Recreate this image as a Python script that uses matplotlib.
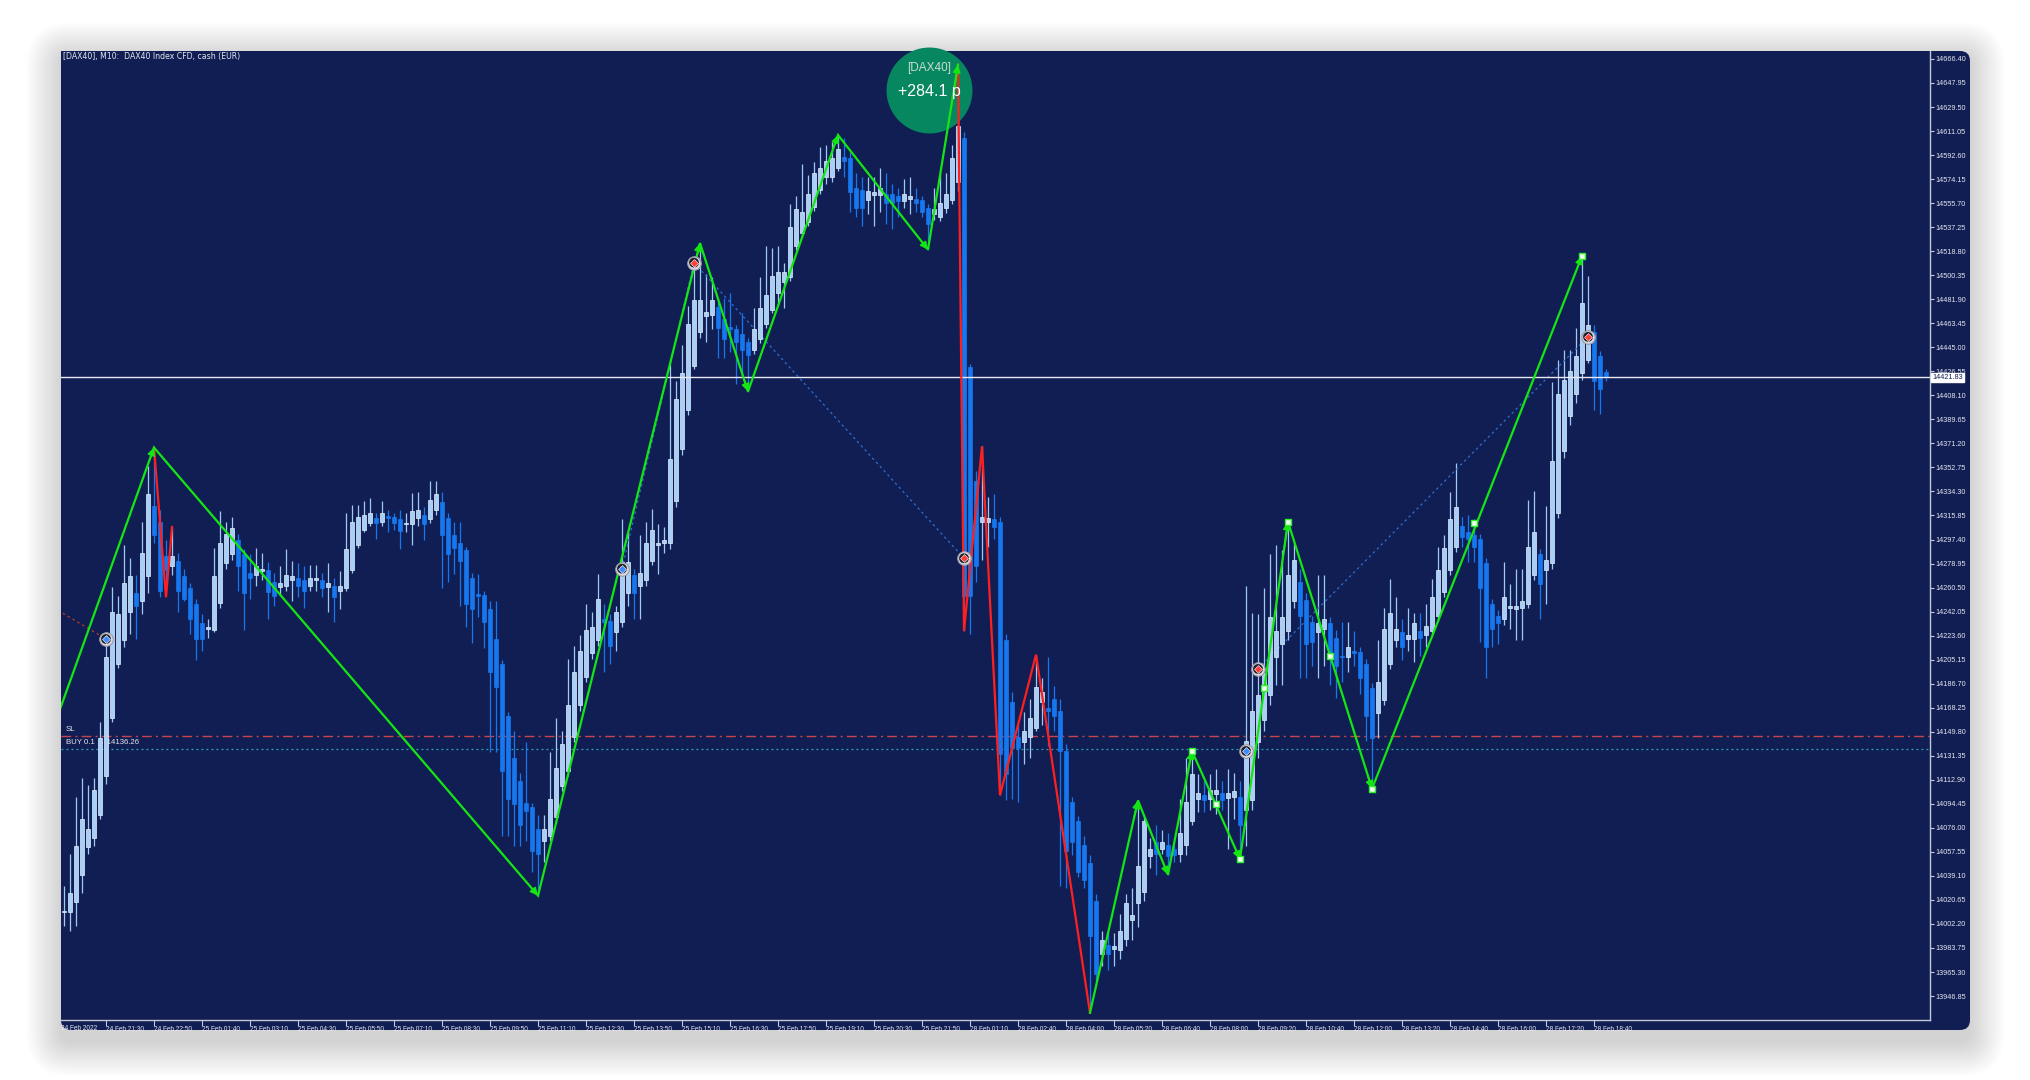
import matplotlib
matplotlib.use("Agg")
import matplotlib.pyplot as plt
from matplotlib.patches import FancyBboxPatch
from matplotlib.transforms import IdentityTransform, blended_transform_factory
import numpy as np

# ---- candle data (DAX40, M10) ----
opens = [14011, 14011, 14019, 14040, 14061, 14068, 14086, 14116, 14160, 14202, 14220, 14242, 14256, 14250, 14269, 14323,
         14311, 14285, 14277, 14281, 14269, 14260, 14248, 14233, 14229, 14228, 14249, 14279, 14286, 14297, 14286, 14272,
         14270, 14273, 14274, 14265, 14261, 14262, 14266, 14268, 14266, 14262, 14266, 14266, 14261, 14262, 14258, 14260,
         14274, 14293, 14305, 14310, 14314, 14311, 14315, 14315, 14313, 14309, 14309, 14314, 14316, 14313, 14320, 14326,
         14314, 14301, 14295, 14289, 14268, 14255, 14255, 14244, 14221, 14202, 14162, 14130, 14112, 14095, 14092, 14075,
         14066, 14070, 14084, 14108, 14120, 14146, 14170, 14192, 14210, 14220, 14236, 14235, 14226, 14234, 14256, 14270,
         14262, 14266, 14281, 14293, 14295, 14295, 14327, 14367, 14397, 14431, 14457, 14469, 14470, 14476, 14467, 14460,
         14459, 14455, 14449, 14443, 14451, 14463, 14474, 14487, 14495, 14499, 14523, 14533, 14541, 14553, 14566, 14576,
         14576, 14583, 14591, 14590, 14567, 14566, 14558, 14562, 14562, 14563, 14563, 14561, 14557, 14559, 14559, 14558,
         14552, 14547, 14545, 14552, 14558, 14572, 14606, 14430, 14342, 14311, 14311, 14313, 14311, 14220, 14173, 14146,
         14142, 14146, 14153, 14173, 14168, 14175, 14166, 14135, 14096, 14081, 14063, 14049, 14020, 13979, 13986, 13983,
         13982, 13991, 14005, 14018, 14027, 14054, 14065, 14060, 14063, 14060, 14056, 14063, 14081, 14098, 14101, 14098,
         14102, 14103, 14099, 14100, 14100, 14090, 14097, 14142, 14159, 14178, 14207, 14217, 14227, 14250, 14265, 14251,
         14234, 14226, 14229, 14233, 14222, 14208, 14207, 14212, 14211, 14202, 14183, 14164, 14174, 14202, 14220, 14226,
         14221, 14221, 14227, 14224, 14227, 14239, 14257, 14274, 14292, 14308, 14303, 14301, 14298, 14279, 14248, 14239,
         14236, 14245, 14244, 14245, 14248, 14270, 14286, 14274, 14279, 14318, 14365, 14392, 14409, 14425, 14435, 14457,
         14438, 14426]
highs = [14031, 14056, 14100, 14114, 14109, 14114, 14157, 14221, 14261, 14254, 14293, 14283, 14270, 14311, 14354, 14368,
         14320, 14297, 14307, 14287, 14275, 14264, 14252, 14240, 14236, 14291, 14319, 14311, 14315, 14302, 14290, 14286,
         14291, 14287, 14280, 14272, 14277, 14290, 14281, 14279, 14277, 14278, 14278, 14272, 14279, 14268, 14273, 14318,
         14324, 14324, 14327, 14329, 14318, 14327, 14320, 14318, 14320, 14318, 14333, 14334, 14322, 14342, 14342, 14334,
         14318, 14311, 14311, 14292, 14272, 14271, 14258, 14250, 14250, 14205, 14165, 14150, 14118, 14142, 14095, 14086,
         14086, 14134, 14160, 14150, 14206, 14216, 14224, 14248, 14242, 14271, 14248, 14240, 14246, 14313, 14303, 14275,
         14301, 14311, 14321, 14309, 14307, 14435, 14419, 14447, 14477, 14505, 14525, 14501, 14499, 14480, 14483, 14487,
         14462, 14471, 14452, 14475, 14499, 14523, 14521, 14523, 14510, 14555, 14561, 14586, 14577, 14587, 14599, 14600,
         14603, 14608, 14606, 14595, 14579, 14576, 14576, 14576, 14583, 14579, 14570, 14567, 14574, 14576, 14567, 14561,
         14555, 14567, 14579, 14579, 14600, 14662, 14610, 14432, 14350, 14369, 14330, 14332, 14315, 14225, 14180, 14157,
         14165, 14175, 14209, 14191, 14207, 14185, 14175, 14140, 14100, 14085, 14070, 14055, 14025, 13997, 13995, 13995,
         14010, 14025, 14030, 14097, 14085, 14068, 14078, 14074, 14072, 14068, 14098, 14130, 14135, 14117, 14112, 14117,
         14121, 14112, 14121, 14118, 14112, 14262, 14241, 14240, 14260, 14286, 14293, 14289, 14311, 14296, 14275, 14256,
         14239, 14270, 14270, 14238, 14228, 14234, 14234, 14227, 14215, 14206, 14187, 14220, 14245, 14267, 14253, 14236,
         14245, 14241, 14241, 14248, 14267, 14292, 14301, 14334, 14356, 14315, 14316, 14313, 14302, 14283, 14252, 14243,
         14280, 14263, 14275, 14275, 14328, 14335, 14290, 14323, 14418, 14435, 14443, 14443, 14460, 14515, 14500, 14462,
         14442, 14428]
lows = [14001, 13997, 14001, 14026, 14056, 14062, 14083, 14110, 14157, 14199, 14215, 14225, 14221, 14240, 14256, 14295,
        14253, 14258, 14270, 14242, 14250, 14225, 14205, 14212, 14222, 14226, 14245, 14275, 14282, 14258, 14228, 14252,
        14262, 14266, 14236, 14246, 14255, 14258, 14250, 14253, 14245, 14258, 14258, 14253, 14242, 14234, 14244, 14258,
        14272, 14291, 14303, 14308, 14298, 14308, 14303, 14305, 14290, 14303, 14293, 14308, 14297, 14310, 14316, 14260,
        14265, 14271, 14246, 14230, 14218, 14238, 14214, 14134, 14134, 14070, 14070, 14062, 14062, 14066, 14042, 14024,
        14050, 14066, 14080, 14104, 14116, 14142, 14166, 14188, 14206, 14216, 14196, 14202, 14212, 14230, 14246, 14236,
        14236, 14262, 14278, 14271, 14287, 14290, 14322, 14362, 14393, 14428, 14452, 14449, 14459, 14437, 14437, 14441,
        14417, 14423, 14411, 14440, 14448, 14460, 14471, 14477, 14475, 14496, 14520, 14530, 14538, 14550, 14563, 14570,
        14572, 14580, 14576, 14549, 14545, 14538, 14547, 14538, 14549, 14540, 14536, 14545, 14552, 14547, 14549, 14545,
        14520, 14543, 14542, 14548, 14555, 14565, 14227, 14225, 14265, 14282, 14292, 14298, 14101, 14097, 14098, 14096,
        14125, 14130, 14150, 14155, 14139, 14150, 14031, 14030, 14055, 14038, 14030, 13934, 13955, 13970, 13967, 13970,
        13975, 13985, 13990, 14000, 14020, 14045, 14040, 14056, 14040, 14050, 14050, 14055, 14078, 14088, 14088, 14090,
        14087, 14090, 14060, 14083, 14052, 14062, 14090, 14130, 14150, 14170, 14186, 14186, 14220, 14245, 14191, 14191,
        14200, 14191, 14200, 14186, 14176, 14188, 14196, 14200, 14179, 14143, 14106, 14145, 14170, 14198, 14215, 14205,
        14212, 14203, 14208, 14215, 14223, 14235, 14253, 14270, 14288, 14292, 14280, 14280, 14219, 14191, 14215, 14217,
        14232, 14229, 14220, 14220, 14245, 14266, 14236, 14248, 14275, 14314, 14360, 14385, 14402, 14420, 14433, 14397,
        14394, 14419]
closes = [14012, 14026, 14062, 14083, 14075, 14105, 14145, 14207, 14242, 14240, 14264, 14269, 14246, 14287, 14332, 14301,
          14258, 14274, 14285, 14258, 14252, 14236, 14221, 14221, 14230, 14269, 14295, 14302, 14306, 14277, 14256, 14268,
          14277, 14275, 14257, 14254, 14264, 14270, 14269, 14262, 14258, 14268, 14268, 14260, 14264, 14253, 14262, 14290,
          14311, 14315, 14316, 14318, 14310, 14318, 14314, 14310, 14304, 14310, 14319, 14320, 14309, 14328, 14332, 14301,
          14286, 14291, 14281, 14248, 14244, 14254, 14234, 14196, 14184, 14120, 14098, 14094, 14078, 14089, 14058, 14056,
          14075, 14098, 14122, 14140, 14170, 14196, 14212, 14228, 14230, 14252, 14234, 14216, 14242, 14280, 14280, 14256,
          14272, 14295, 14305, 14295, 14297, 14359, 14405, 14425, 14463, 14481, 14481, 14472, 14481, 14460, 14451, 14459,
          14449, 14443, 14439, 14459, 14475, 14485, 14500, 14503, 14503, 14537, 14551, 14549, 14563, 14579, 14583, 14588,
          14590, 14597, 14588, 14564, 14552, 14552, 14565, 14564, 14567, 14556, 14556, 14557, 14563, 14561, 14556, 14549,
          14540, 14551, 14556, 14563, 14590, 14615, 14254, 14254, 14277, 14315, 14314, 14307, 14133, 14117, 14137, 14137,
          14150, 14160, 14184, 14180, 14166, 14162, 14135, 14058, 14065, 14042, 14036, 13993, 13964, 13990, 13979, 13985,
          13997, 14018, 14009, 14047, 14081, 14060, 14056, 14065, 14054, 14055, 14072, 14096, 14117, 14103, 14097, 14105,
          14105, 14097, 14103, 14104, 14078, 14143, 14166, 14178, 14195, 14238, 14227, 14238, 14270, 14282, 14239, 14217,
          14219, 14233, 14236, 14208, 14200, 14207, 14215, 14210, 14191, 14162, 14145, 14188, 14229, 14241, 14229, 14215,
          14224, 14233, 14222, 14231, 14253, 14274, 14291, 14313, 14322, 14299, 14298, 14292, 14260, 14215, 14229, 14233,
          14253, 14246, 14246, 14250, 14292, 14303, 14263, 14282, 14358, 14409, 14420, 14427, 14438, 14479, 14462, 14419,
          14413, 14422]

time_labels = ["24 Feb 21:30", "24 Feb 22:50", "25 Feb 01:40", "25 Feb 03:10", "25 Feb 04:30", "25 Feb 05:50",
               "25 Feb 07:10", "25 Feb 08:30", "25 Feb 09:50", "25 Feb 11:10", "25 Feb 12:30", "25 Feb 13:50",
               "25 Feb 15:10", "25 Feb 16:30", "25 Feb 17:50", "25 Feb 19:10", "25 Feb 20:30", "25 Feb 21:50",
               "28 Feb 01:10", "28 Feb 02:40", "28 Feb 04:00", "28 Feb 05:20", "28 Feb 06:40", "28 Feb 08:00",
               "28 Feb 09:20", "28 Feb 10:40", "28 Feb 12:00", "28 Feb 13:20", "28 Feb 14:40", "28 Feb 16:00",
               "28 Feb 17:20", "28 Feb 18:40"]

# zigzag indicator (bar index, price)
zz_green_a_x = [-8, 15, 79, 106, 114, 129, 144, 149]
zz_green_a_y = [14073, 14368, 14024, 14525, 14411, 14608, 14520, 14662]
zz_green_b_x = [171, 179, 184, 188, 196, 204, 218, 253]
zz_green_b_y = [13934, 14097, 14040, 14135, 14052, 14311, 14106, 14515]
zz_red_a_x = [15, 17, 18]
zz_red_a_y = [14368, 14253, 14307]
zz_red_b_x = [149, 150, 153, 156, 162, 171]
zz_red_b_y = [14662, 14227, 14369, 14101, 14209, 13934]
sq_x = [188, 192, 196, 200, 204, 211, 218, 235, 253]
sq_y = [14135, 14094, 14052, 14183, 14311, 14208, 14106, 14310, 14515]

# trade markers and connecting lines
sig_x = [7, 93, 105, 150, 197, 199, 254]
sig_y = [14221, 14275, 14510, 14283, 14135, 14198, 14453]
sig_kind = ["buy", "buy", "sell", "sell", "buy", "sell", "sell"]
tl_x0 = [-1, 93, 105, 199]
tl_y0 = [14243, 14275, 14510, 14198]
tl_x1 = [7, 105, 150, 254]
tl_y1 = [14221, 14510, 14283, 14453]
tl_col = ["#c0392b", "#2a6fd6", "#2a6fd6", "#2a6fd6"]

last_price = 14421.83
sl_price = 14146.5
buy_price = 14136.26
profit_text = "+284.1 p"

# ---- style ----
W, H = 2030, 1080
navy = "#111e54"
bull_face, bull_edge, bull_wick = "#a8cff7", "#e2f0ff", "#a0c9f3"
bear_face, bear_wick = "#1677ee", "#1677ee"
green, red = "#14e614", "#ff1f1f"
txt_col = "#e4e6ee"
small_font = ["Liberation Sans", "DejaVu Sans"]

plt.rcParams['font.family'] = ['DejaVu Sans']

fig = plt.figure(figsize=(W / 100, H / 100), dpi=100, facecolor="white")

# card shadow + card (pixel coordinates, origin bottom-left)
cx0, cx1, cy0, cy1 = 61, 1970, H - 1030, H - 51
for k in range(22):
    pad = 1 + k * 1.6
    sh = FancyBboxPatch((cx0 - pad, cy0 - pad - 12), (cx1 - cx0) + 2 * pad, (cy1 - cy0) + 2 * pad + 6,
                        boxstyle="round,pad=0,rounding_size=%f" % (10 + pad),
                        transform=IdentityTransform(), facecolor="#000000", edgecolor="none",
                        alpha=0.0075, zorder=-10)
    fig.add_artist(sh)
card = FancyBboxPatch((cx0, cy0), cx1 - cx0, cy1 - cy0, boxstyle="round,pad=0,rounding_size=10",
                      transform=IdentityTransform(), facecolor=navy, edgecolor="none", zorder=-5)
fig.add_artist(card)

ax = fig.add_axes([61 / W, 1 - 1020 / H, (1930 - 61) / W, (1020 - 51) / H])
ax.set_facecolor(navy)
ax.set_xlim(-0.5, 311)
ax.set_ylim(13928.45, 14672.5)

# candles
o = np.array(opens, dtype=float)
hi = np.array(highs, dtype=float)
lo = np.array(lows, dtype=float)
c = np.array(closes, dtype=float)
x = np.arange(len(c))
up = c >= o
body_lo = np.minimum(o, c)
body_h = np.maximum(np.abs(c - o), 1.3)
ax.vlines(x[up], lo[up], hi[up], color=bull_wick, lw=0.9, zorder=2)
ax.vlines(x[~up], lo[~up], hi[~up], color=bear_wick, lw=0.9, zorder=2)
ax.bar(x[up], body_h[up], bottom=body_lo[up], width=0.68, color=bull_face,
       edgecolor=bull_edge, linewidth=0.5, zorder=3)
ax.bar(x[~up], body_h[~up], bottom=body_lo[~up], width=0.68, color=bear_face,
       edgecolor=bear_face, linewidth=0.5, zorder=3)

# horizontal lines
ax.axhline(last_price, color="#e8e8f0", lw=1.0, zorder=4)
ax.axhline(sl_price, color="#c8444a", lw=1.0, ls=(0, (7, 3, 1.5, 3)), zorder=1.5)
ax.axhline(buy_price, color="#2fa6b8", lw=0.9, ls=(0, (1.5, 2.5)), zorder=1.5)
ax.text(0.3, sl_price + 2.5, "SL", color=txt_col, fontsize=5.6, va="bottom", ha="left", zorder=5,
        family=small_font)
ax.text(0.3, buy_price + 2.5, "BUY 0.1 \u25b2 14136.26", color=txt_col, fontsize=5.6, va="bottom",
        ha="left", zorder=1.8, family=small_font)

# trade connection lines
for a0, b0, a1, b1, col in zip(tl_x0, tl_y0, tl_x1, tl_y1, tl_col):
    ax.plot([a0, a1], [b0, b1], color=col, lw=0.9, ls=(0, (2, 2.5)), zorder=2.5)

# profit bubble (under the zigzag)
ax.scatter([0.4644], [0.9598], s=3830, color="#07875f", transform=ax.transAxes, zorder=3.6,
           clip_on=False, linewidths=0)


def zigzag(xs, ys, col, arrows):
    ax.plot(xs, ys, color=col, lw=1.6, zorder=4.5, solid_joinstyle="miter")
    if not arrows:
        return
    for k in range(1, len(xs)):
        x0, y0, x1, y1 = xs[k - 1], ys[k - 1], xs[k], ys[k]
        t = min(0.6 / abs(x1 - x0), 0.5)
        ax.annotate("", xy=(x1, y1), xytext=(x1 - t * (x1 - x0), y1 - t * (y1 - y0)),
                    arrowprops=dict(arrowstyle="-|>", color=col, lw=1.2, mutation_scale=11,
                                    shrinkA=0, shrinkB=0), zorder=4.6)


zigzag(zz_red_a_x, zz_red_a_y, red, False)
zigzag(zz_red_b_x, zz_red_b_y, red, False)
zigzag(zz_green_a_x, zz_green_a_y, green, True)
zigzag(zz_green_b_x, zz_green_b_y, green, True)
ax.scatter(sq_x, sq_y, marker="s", s=18, facecolor="#f0fff0", edgecolor="#2cf02c", linewidths=1.0, zorder=5)

# trade signal icons
for sx, sy, kind in zip(sig_x, sig_y, sig_kind):
    ax.scatter([sx], [sy], s=95, facecolor="#d9d9de", edgecolor="#9a9aa8", linewidths=0.8, zorder=6)
    ax.scatter([sx], [sy], s=50, facecolor="#20202c", edgecolor="none", zorder=6.1)
    ax.scatter([sx], [sy], s=16, marker="D", facecolor="#ff3b3b" if kind == "sell" else "#3d8cff",
               edgecolor="white", linewidths=0.4, zorder=6.2)

# bubble texts
ax.text(0.4644, 0.9825, "[DAX40]", transform=ax.transAxes, ha="center", va="center", color="#c9dcd4",
        fontsize=8.5, family=small_font, zorder=7)
ax.text(0.4644, 0.9577, profit_text, transform=ax.transAxes, ha="center", va="center", color="white",
        fontsize=11.5, family=small_font, zorder=7)

# axes
for side in ["left", "top"]:
    ax.spines[side].set_visible(False)
for side in ["right", "bottom"]:
    ax.spines[side].set_color("#c4c8d4")
    ax.spines[side].set_linewidth(1.0)

yt = np.round(13946.85 + 18.45 * np.arange(40), 2)
ax.yaxis.tick_right()
ax.set_yticks(yt, ["%.2f" % v for v in yt], family=small_font)
ax.tick_params(axis="y", colors="#c4c8d4", labelcolor=txt_col, labelsize=5.2, length=3, width=0.8, pad=1.0)
ax.set_xticks(list(range(7, 257, 8)), time_labels, ha="left", family=small_font)
ax.tick_params(axis="x", colors="#c4c8d4", labelcolor=txt_col, labelsize=4.7, length=4, width=0.8, pad=0.6)
for lbl in ax.get_xticklabels():
    lbl.set_x(lbl.get_position()[0])

trans = blended_transform_factory(ax.transAxes, ax.transData)
ax.text(1.0012, last_price, "%.2f" % last_price, transform=trans, ha="left", va="center", fontsize=5.2,
        color=navy, family=small_font,
        bbox=dict(boxstyle="square,pad=0.15", facecolor="white", edgecolor="white"), zorder=8, clip_on=False)
ax.text(0.0, -0.0055, "24 Feb 2022", transform=ax.transAxes, ha="left", va="top", fontsize=4.7,
        color=txt_col, family=small_font)

fig.text(63 / W, 1 - 56 / H, "[DAX40], M10:  DAX40 Index CFD, cash (EUR)", color=txt_col, fontsize=5.6,
         ha="left", va="center")

fig.savefig("out.png", dpi=100, facecolor="white")
